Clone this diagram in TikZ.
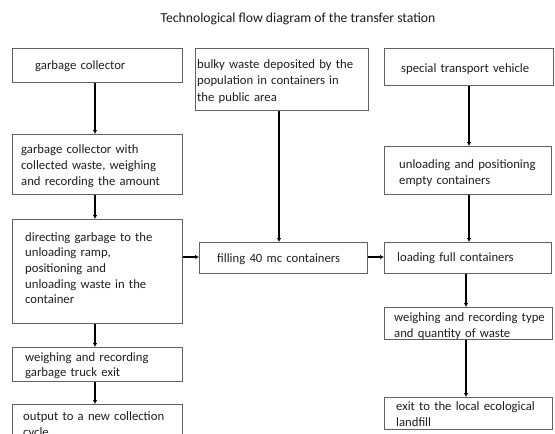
\documentclass[tikz,border=0pt]{standalone}
\usepackage{fontspec}
\setmainfont{Carlito}
\usetikzlibrary{arrows.meta}
\tikzset{
  box/.style={draw=black!62, line width=1.4pt, fill=white, rectangle, inner sep=0pt, anchor=north west},
  txt/.style={inner sep=0pt, anchor=base west, align=left, text width=165pt, text=black!88,
              font=\fontsize{12.7}{16}\selectfont},
  arr/.style={draw=black, line width=1.6pt, -{Latex[length=4pt,width=4.5pt]}}
}
\begin{document}
\begin{tikzpicture}[x=1pt,y=-1pt]
\useasboundingbox (0,0) rectangle (555,434);
\clip (0,0) rectangle (555,434);
% title
\node[inner sep=0pt, anchor=base, text=black!90, font=\fontsize{13.7}{16}\selectfont] (title) at (298,22) {Technological flow diagram of the transfer station};
% boxes
\node[box, minimum width=170pt, minimum height=34pt] (gc) at (12,48) {};
\node[box, minimum width=173pt, minimum height=62pt] (bulky) at (195,48) {};
\node[box, minimum width=169pt, minimum height=37pt] (spec) at (384,48) {};
\node[box, minimum width=170pt, minimum height=60pt] (gcw) at (12,134) {};
\node[box, minimum width=170pt, minimum height=104pt] (dir) at (12,219) {};
\node[box, minimum width=168pt, minimum height=31pt] (fill) at (199,242) {};
\node[box, minimum width=167pt, minimum height=48pt] (unl) at (384,146) {};
\node[box, minimum width=167pt, minimum height=31pt] (load) at (384,242) {};
\node[box, minimum width=168pt, minimum height=32pt] (wtype) at (384,307) {};
\node[box, minimum width=168pt, minimum height=32pt] (exit) at (384,397) {};
\node[box, minimum width=170pt, minimum height=34pt] (wtruck) at (12,347) {};
\node[box, minimum width=170pt, minimum height=50pt] (outp) at (12,404) {};
% texts
\node[txt] (tgc) at (35,69) {garbage collector};
\node[txt, font=\fontsize{12.7}{16.6}\selectfont] (tbulky) at (197,68) {bulky waste deposited by the\\population in containers in\\the public area};
\node[txt] (tspec) at (401,72) {special transport vehicle};
\node[txt] (tgcw) at (21,153) {garbage collector with\\collected waste, weighing\\and recording the amount};
\node[txt, font=\fontsize{12.7}{15.7}\selectfont] (tdir) at (25,241) {directing garbage to the\\unloading ramp,\\positioning and\\unloading waste in the\\container};
\node[txt] (tfill) at (217,262) {filling 40 mc containers};
\node[txt] (tunl) at (399,168) {unloading and positioning\\empty containers};
\node[txt] (tload) at (397,261) {loading full containers};
\node[txt] (twtype) at (394,321) {weighing and recording type\\and quantity of waste};
\node[txt] (texit) at (396,410) {exit to the local ecological\\landfill};
\node[txt, font=\fontsize{12.7}{15}\selectfont] (twtruck) at (25,361) {weighing and recording\\garbage truck exit};
\node[txt] (toutp) at (23,420) {output to a new collection\\cycle};
% guide coordinates
\coordinate (cA) at (95,0);
\coordinate (cB) at (279,0);
\coordinate (cC) at (469,0);
\coordinate (cD) at (466,0);
\coordinate (cE) at (0,257);
% connectors
\draw[arr] (gc.south -| cA) -- (gcw.north -| cA);
\draw[arr] (gcw.south -| cA) -- (dir.north -| cA);
\draw[arr] (dir.south -| cA) -- (wtruck.north -| cA);
\draw[arr] (wtruck.south -| cA) -- (outp.north -| cA);
\draw[arr] (bulky.south -| cB) -- (fill.north -| cB);
\draw[arr] (spec.south -| cC) -- (unl.north -| cC);
\draw[arr] (unl.south -| cC) -- (load.north -| cC);
\draw[arr] (load.south -| cD) -- (wtype.north -| cD);
\draw[arr] (wtype.south -| cD) -- (exit.north -| cD);
\draw[arr] (dir.east |- cE) -- (fill.west |- cE);
\draw[arr] (fill.east |- cE) -- (load.west |- cE);
\end{tikzpicture}
\end{document}
